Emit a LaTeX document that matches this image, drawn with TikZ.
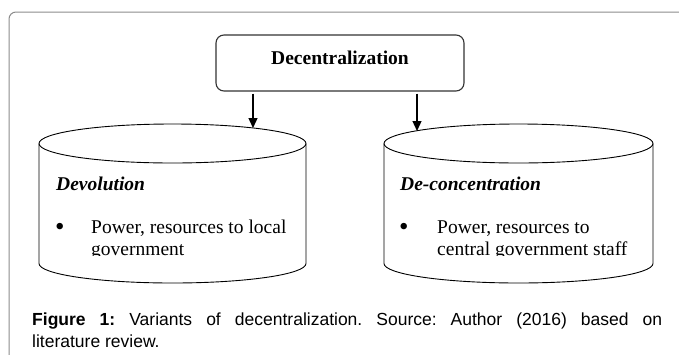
\documentclass[tikz,border=0pt]{standalone}
\usepackage{fontspec}
\setmainfont{Liberation Serif}
\newfontfamily\capfont{Liberation Sans}
\usetikzlibrary{arrows.meta,positioning}
\tikzset{panel/.style={draw=black!45, line width=1pt, rounded corners=7pt},
    headbox/.style={draw=black!80, line width=1.1pt, rounded corners=8pt,
        minimum width=248pt, inner sep=4pt, text height=25pt, text depth=23pt,
        font=\fontsize{19.5}{22}\selectfont\bfseries},
    drum/.style={draw, line width=0.9pt},
    link/.style={-{Triangle[length=10pt,width=9pt]}, line width=1.3pt, shorten <=2pt},
    body/.style={anchor=base west, inner sep=0pt, font=\fontsize{19.5}{22}\selectfont},
    dot/.style={body, font=\fontsize{27}{22}\selectfont},
    title/.style={body, font=\fontsize{19.5}{22}\selectfont\bfseries\itshape}}

\begin{document}
\begin{tikzpicture}[x=1pt, y=-1pt]
\useasboundingbox (0,0) rectangle (679,354);
\draw[panel] (690,12) -- (9,12) -- (9,365);

\node (decbox) [headbox] at (340,63) {Decentralization};

% the two drums
\draw[drum] (172.5,143.5) ellipse [x radius=133.5, y radius=19.5];
\draw[drum] (39,143.5) -- (39,263.5) arc [start angle=180, end angle=0, x radius=133.5, y radius=19.5] -- (306,143.5);
\draw[drum] (518.5,143.5) ellipse [x radius=134.5, y radius=19.5];
\draw[drum] (384,143.5) -- (384,263.5) arc [start angle=180, end angle=0, x radius=134.5, y radius=19.5] -- (653,143.5);

\coordinate (devotop) at (253,128);
\coordinate (deconctop) at (417,131);
\draw[link] (decbox.south -| devotop) -- (devotop);
\draw[link] (decbox.south -| deconctop) -- (deconctop);

\begin{scope}
\clip (0,0) rectangle (679,255);
\node (devotitle) [title] at (56,190) {Devolution};
\node (devobullet) [dot] at (55,235) {•};
\node (devoline1) [body] at (91,233) {Power, resources to local};
\node (devoline2) [body] at (91,255) {government};
\node (deconctitle) [title] at (400,190) {De-concentration};
\node (deconcbullet) [dot] at (399,235) {•};
\node (deconcline1) [body] at (437,233) {Power, resources to};
\node (deconcline2) [body] at (437,255) {central government staff};
\end{scope}

\node (caption) [anchor=base west, inner sep=0pt, text width=630pt, align=justify,
    font=\capfont\fontsize{17.5}{22}\selectfont\frenchspacing] at (32,325)
    {\textbf{Figure 1:} Variants of decentralization. Source: Author (2016) based on\linebreak literature review.};
\end{tikzpicture}
\end{document}
